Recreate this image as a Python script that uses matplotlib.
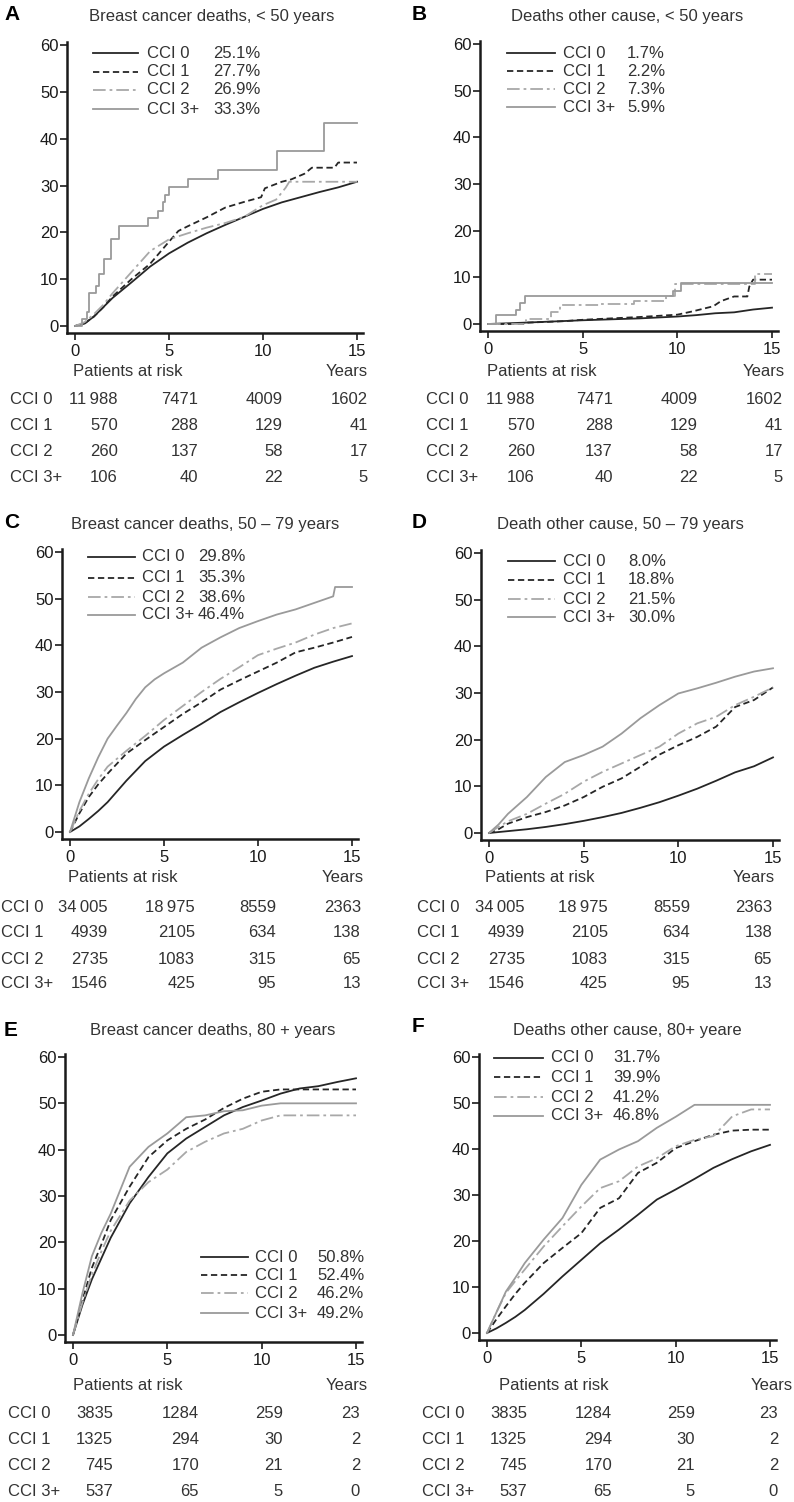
import numpy as np
import matplotlib.pyplot as plt
from matplotlib.lines import Line2D

plt.rcParams['font.family'] = ['Liberation Sans', 'DejaVu Sans']

W, H = 794, 1502

# ---- data -------------------------------------------------------------
YR = [0, 0.5, 1, 1.5, 2, 3, 4, 5, 6, 7, 8, 9, 10, 11, 12, 13, 14, 15]
groups = ['CCI 0', 'CCI 1', 'CCI 2', 'CCI 3+']
letters = ['A', 'B', 'C', 'D', 'E', 'F']
titles = ['Breast cancer deaths, < 50 years', 'Deaths other cause, < 50 years',
          'Breast cancer deaths, 50 \u2013 79 years', 'Death other cause, 50 \u2013 79 years',
          'Breast cancer deaths, 80 + years', 'Deaths other cause, 80+ yeare']

pct_a = ['25.1%', '27.7%', '26.9%', '33.3%']
pct_b = ['1.7%', '2.2%', '7.3%', '5.9%']
pct_c = ['29.8%', '35.3%', '38.6%', '46.4%']
pct_d = ['8.0%', '18.8%', '21.5%', '30.0%']
pct_e = ['50.8%', '52.4%', '46.2%', '49.2%']
pct_f = ['31.7%', '39.9%', '41.2%', '46.8%']

risk_lt50 = [['11\u2009988', '7471', '4009', '1602'],
             ['570', '288', '129', '41'],
             ['260', '137', '58', '17'],
             ['106', '40', '22', '5']]
risk_50_79 = [['34\u2009005', '18\u2009975', '8559', '2363'],
              ['4939', '2105', '634', '138'],
              ['2735', '1083', '315', '65'],
              ['1546', '425', '95', '13']]
risk_80 = [['3835', '1284', '259', '23'],
           ['1325', '294', '30', '2'],
           ['745', '170', '21', '2'],
           ['537', '65', '5', '0']]

# panel A
a0 = [0, 0.5, 2, 4, 6, 9.3, 12.7, 15.5, 17.8, 19.8, 21.6, 23.3, 25, 26.4, 27.5, 28.6, 29.6, 30.8]
a1_t = [0, 0.5, 1, 1.5, 2, 3, 4, 5, 5.5, 6, 7, 8, 9, 9.9, 10.1, 11, 11.5, 12.2, 12.6, 13.8, 14, 15]
a1 = [0, 0.5, 2, 4, 6.3, 10, 13.3, 18, 20.3, 21.3, 23.2, 25.3, 26.5, 27.5, 29.4, 30.8, 31.3, 32.5, 33.8, 33.8, 34.9, 34.9]
a2_t = [0, 0.5, 1, 1.5, 2, 3, 4, 5, 6, 7, 8, 9, 10, 10.7, 11.2, 11.4, 15]
a2 = [0, 0.8, 2.5, 4.5, 7, 11.5, 16, 18.5, 19.8, 21, 22, 23.3, 25.8, 27, 29.5, 30.8, 30.8]
a3_t = [0, 0.39, 0.66, 0.75, 1.1, 1.28, 1.55, 1.9, 2.35, 3.87, 4.4, 4.67, 4.8, 5.02, 6.0, 7.6, 10.72, 13.22, 15]
a3 = [0, 1.5, 3, 7, 8.5, 11, 14.4, 18.5, 21.4, 23, 24.6, 26.5, 28, 29.7, 31.3, 33.3, 37.4, 43.3, 43.3]

# panel B
b0_t = [0, 2, 5, 8, 10, 11, 12, 13, 14, 15]
b0 = [0, 0.3, 0.8, 1.2, 1.6, 1.9, 2.3, 2.5, 3.1, 3.5]
b1_t = [0, 2, 2.1, 4, 5, 8, 10, 10.8, 11.9, 12.3, 13, 13.7, 13.8, 14, 15]
b1 = [0, 0, 0.3, 0.6, 0.9, 1.5, 2, 2.7, 3.8, 4.9, 5.9, 5.9, 8, 9.5, 9.5]
b2_t = [0, 2.03, 3.35, 3.8, 5.9, 7.7, 9.4, 9.9, 14.1, 15]
b2 = [0, 1, 2.5, 4, 4.3, 5, 6, 8.6, 10.8, 10.8]
b3_t = [0, 0.44, 1.5, 1.71, 1.94, 9.75, 10.2, 15]
b3 = [0, 2, 3, 4.5, 6, 7, 8.8, 8.8]

# panel C
c0 = [0, 1.2, 2.8, 4.5, 6.4, 11, 15.2, 18.3, 20.8, 23.2, 25.7, 27.8, 29.8, 31.7, 33.5, 35.2, 36.5, 37.7]
c1 = [0, 4, 7.5, 10.2, 12.5, 16.8, 19.7, 22.5, 25.3, 27.8, 30.5, 32.5, 34.4, 36.3, 38.5, 39.5, 40.6, 41.8]
c2 = [0, 4.5, 8.2, 11.3, 14, 17.4, 20.6, 24, 27, 30, 32.8, 35.3, 37.9, 39.3, 40.6, 42.3, 43.7, 44.7]
c3_t = [0, 0.5, 1, 1.5, 2, 2.5, 3, 3.5, 4, 4.5, 5, 6, 7, 8, 9, 10, 11, 12, 13, 14, 14.1, 15]
c3 = [0, 6.4, 11.5, 16, 20, 22.8, 25.5, 28.5, 31, 32.7, 34, 36.3, 39.5, 41.7, 43.7, 45.2, 46.6, 47.7, 49.1, 50.5, 52.5, 52.5]

# panel D
d0 = [0, 0.2, 0.4, 0.6, 0.8, 1.3, 1.9, 2.6, 3.4, 4.3, 5.4, 6.6, 8, 9.5, 11.2, 13, 14.3, 16.2]
d1 = [0, 0.8, 2, 2.7, 3.4, 4.5, 5.9, 7.7, 9.9, 11.7, 14.2, 16.8, 18.8, 20.6, 22.8, 27, 28.5, 31.2]
d2 = [0, 1.3, 2.5, 3.3, 4.1, 6.3, 8.4, 11, 13.1, 14.9, 16.7, 18.5, 21.3, 23.5, 24.9, 27.4, 29.2, 31.2]
d3 = [0, 1.8, 4.1, 5.9, 7.7, 12, 15.2, 16.7, 18.5, 21.3, 24.6, 27.4, 29.9, 31, 32.2, 33.5, 34.6, 35.3]

# panel E
e0 = [0, 6.5, 12, 16.5, 21, 28.4, 34.1, 39.2, 42.4, 44.9, 47.4, 49.2, 50.6, 52.1, 53.2, 53.7, 54.6, 55.4]
e1 = [0, 7.5, 14.5, 19.5, 24.8, 32, 38.4, 42, 44.5, 46.5, 49, 51, 52.5, 53, 53, 53, 53, 53]
e2 = [0, 7, 13, 18, 22.5, 29, 33, 35.7, 39.5, 41.7, 43.5, 44.5, 46.3, 47.4, 47.4, 47.4, 47.4, 47.4]
e3 = [0, 9, 17, 22, 26.2, 36.3, 40.6, 43.5, 47, 47.4, 48.3, 48.5, 49.5, 50, 50, 50, 50, 50]

# panel F
f0 = [0, 1, 2.2, 3.5, 5, 8.5, 12.3, 15.9, 19.5, 22.5, 25.7, 29, 31.2, 33.5, 35.9, 37.8, 39.5, 40.9]
f1 = [0, 3, 5.8, 8.5, 10.9, 15.2, 18.5, 21.7, 27.2, 29.3, 34.8, 37, 40.2, 41.7, 43.1, 44, 44.2, 44.2]
f2 = [0, 4.5, 8.7, 11.3, 13.8, 18.8, 23.2, 27.5, 31.5, 33, 36.2, 38, 40.6, 42, 42.8, 47.1, 48.6, 48.6]
f3 = [0, 4.5, 9, 12, 15.2, 20.3, 25, 32.2, 37.7, 39.9, 41.7, 44.6, 47, 49.6, 49.6, 49.6, 49.6, 49.6]

curves = [
    [(YR, a0, None), (a1_t, a1, None), (a2_t, a2, None), (a3_t, a3, 'steps-post')],
    [(b0_t, b0, None), (b1_t, b1, None), (b2_t, b2, 'steps-post'), (b3_t, b3, 'steps-post')],
    [(YR, c0, None), (YR, c1, None), (YR, c2, None), (c3_t, c3, None)],
    [(YR, d0, None), (YR, d1, None), (YR, d2, None), (YR, d3, None)],
    [(YR, e0, None), (YR, e1, None), (YR, e2, None), (YR, e3, None)],
    [(YR, f0, None), (YR, f1, None), (YR, f2, None), (YR, f3, None)],
]
pcts = [pct_a, pct_b, pct_c, pct_d, pct_e, pct_f]
risks = [risk_lt50, risk_lt50, risk_50_79, risk_50_79, risk_80, risk_80]

# ---- styles / layout (pixels) ------------------------------------------
colors = ['#262626', '#262626', '#a8a8a8', '#9a9a9a']
styles = ['-', (0, (3.5, 2)), (0, (7, 2.2, 1.5, 2.2)), '-']

# x0, x15, y0, y60 of the data area
frames = [(75, 357, 326, 45), (488, 772, 324, 44),
          (70, 352, 832, 552), (489, 773, 833, 553),
          (73, 356, 1335, 1057), (487, 770, 1333, 1057)]
letter_pos = [(4, 15), (412, 15), (4, 522), (412, 522), (4, 1030), (412, 1027)]
title_pos = [(212, 16), (627, 16), (205, 524), (620, 525), (213, 1031), (627, 1031)]
# handle x0, x1, name x, pct x, row ys
legend_pos = [(93, 138, 147, 213, [53, 72, 90, 109]),
              (507, 555, 563, 627, [53, 71, 89, 107]),
              (88, 135, 142, 198, [557, 578, 597, 615]),
              (508, 555, 563, 628, [561, 580, 599, 617]),
              (201, 248, 255, 317, [1257, 1275, 1293, 1313]),
              (494, 543, 551, 613, [1058, 1077, 1097, 1116])]
# row label x, number right edges, 'Patients at risk' x, 'Years' x, header y, row ys
table_pos = [(10, [118, 198, 283, 368], 73, 368, 371, [400, 426, 452, 477]),
             (426, [535, 613, 698, 783], 487, 785, 371, [400, 426, 452, 477]),
             (1, [108, 195, 276, 361], 68, 364, 878, [908, 933, 959, 984]),
             (417, [525, 608, 690, 772], 485, 775, 878, [908, 933, 959, 984]),
             (8, [113, 199, 283, 360], 73, 368, 1386, [1413, 1440, 1465, 1492]),
             (422, [527, 612, 695, 778], 499, 793, 1386, [1413, 1440, 1465, 1492])]

FS = 12

fig = plt.figure(figsize=(W / 100, H / 100), dpi=100)


def fx(x):
    return x / W


def fy(y):
    return 1 - y / H


for i in range(6):
    x0, x15, y0, y60 = frames[i]
    sx = (x15 - x0) / 15.0
    sy = (y0 - y60) / 60.0
    left, right = x0 - 0.4 * sx, x0 + 15.3 * sx
    top, bottom = y60 - 0.6 * sy, y0 + 1.5 * sy
    ax = fig.add_axes([left / W, 1 - bottom / H, (right - left) / W, (bottom - top) / H])
    for k in range(4):
        t, y, ds = curves[i][k]
        ax.plot(t, y, color=colors[k], linestyle=styles[k], linewidth=1.3,
                drawstyle=ds if ds else 'default')
    ax.set_xlim(-0.4, 15.3)
    ax.set_ylim(-1.5, 60.6)
    ax.set_xticks([0, 5, 10, 15])
    ax.set_yticks(np.arange(0, 61, 10))
    for s in ['top', 'right']:
        ax.spines[s].set_visible(False)
    for s in ['left', 'bottom']:
        ax.spines[s].set_linewidth(1.8)
        ax.spines[s].set_color('#1a1a1a')
    ax.tick_params(axis='both', direction='out', length=5, width=1.2,
                   labelsize=FS, colors='#1a1a1a')
    ax.tick_params(axis='y', pad=1.5)
    ax.tick_params(axis='x', pad=3)

    # letter and title
    lx, ly = letter_pos[i]
    fig.text(fx(lx), fy(ly), letters[i], fontsize=15, fontweight='bold', va='center', ha='left')
    tx, ty = title_pos[i]
    fig.text(fx(tx), fy(ty), titles[i], fontsize=FS, va='center', ha='center', color='#333333')

    # legend
    hx0, hx1, nx, px, rows = legend_pos[i]
    for k in range(4):
        fig.add_artist(Line2D([fx(hx0), fx(hx1)], [fy(rows[k]), fy(rows[k])],
                              transform=fig.transFigure, color=colors[k],
                              linestyle=styles[k], linewidth=1.3))
        fig.text(fx(nx), fy(rows[k]), groups[k], fontsize=FS, va='center', ha='left', color='#333333')
        fig.text(fx(px), fy(rows[k]), pcts[i][k], fontsize=FS, va='center', ha='left', color='#333333')

    # risk table
    rx, cols, parx, yrx, hy, rys = table_pos[i]
    fig.text(fx(parx), fy(hy), 'Patients at risk', fontsize=FS, va='center', ha='left', color='#333333')
    fig.text(fx(yrx), fy(hy), 'Years', fontsize=FS, va='center', ha='right', color='#333333')
    for k in range(4):
        fig.text(fx(rx), fy(rys[k]), groups[k], fontsize=FS, va='center', ha='left', color='#333333')
        for j in range(4):
            fig.text(fx(cols[j]), fy(rys[k]), risks[i][k][j], fontsize=FS,
                     va='center', ha='right', color='#333333')

fig.savefig('out.png', dpi=100, facecolor='white')
